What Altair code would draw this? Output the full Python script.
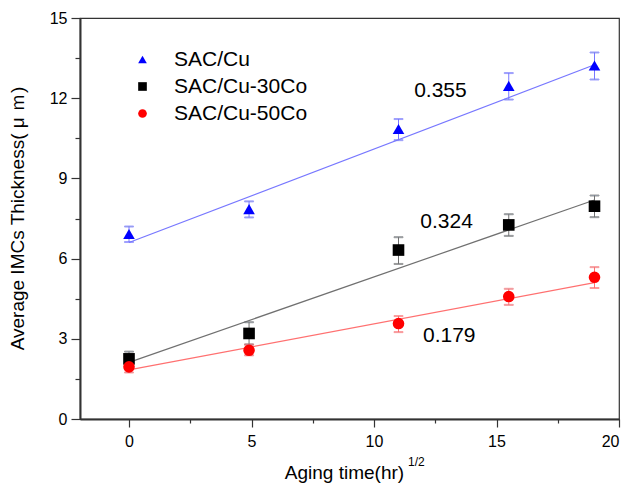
import altair as alt
import pandas as pd

# ---- data ----
series = ["SAC/Cu", "SAC/Cu-30Co", "SAC/Cu-50Co"]
aging = [0, 4.9, 11, 15.5, 19]

cu_mean = [6.92, 7.85, 10.85, 12.46, 13.22]
cu_lo = [6.62, 7.54, 10.43, 11.95, 12.70]
cu_hi = [7.20, 8.14, 11.22, 12.94, 13.71]

co30_mean = [2.25, 3.20, 6.32, 7.26, 7.96]
co30_lo = [1.95, 2.79, 5.80, 6.85, 7.55]
co30_hi = [2.52, 3.62, 6.80, 7.66, 8.36]

co50_mean = [1.95, 2.57, 3.57, 4.58, 5.30]
co50_lo = [1.74, 2.38, 3.25, 4.27, 4.90]
co50_hi = [2.14, 2.78, 3.85, 4.87, 5.68]

fit_x = [0, 19]
fit_cu = [6.60, 13.25]
fit_co30 = [2.12, 8.19]
fit_co50 = [1.84, 5.10]

slope_text = ["0.355", "0.324", "0.179"]
slope_x = [11.64, 11.89, 12.0]
slope_y = [12.27, 7.37, 3.09]

x_ticks = [0, 2.5, 5, 7.5, 10, 12.5, 15, 17.5, 20]
y_ticks = [0, 1.5, 3, 4.5, 6, 7.5, 9, 10.5, 12, 13.5, 15]

dark = ["#0000ff", "#000000", "#ff0000"]
light = ["#7777ff", "#707070", "#ff7070"]
shapes = ["triangle-up", "square", "circle"]

# ---- tables ----
means = [cu_mean, co30_mean, co50_mean]
los = [cu_lo, co30_lo, co50_lo]
his = [cu_hi, co30_hi, co50_hi]
fits = [fit_cu, fit_co30, fit_co50]

pts = pd.DataFrame([
    {"series": s, "grp": s, "x": xv, "y": m[i], "lo": lo[i], "hi": hi[i]}
    for s, m, lo, hi in zip(series, means, los, his)
    for i, xv in enumerate(aging)
])
caps = pd.DataFrame(
    [{"grp": s, "x": xv, "y": lo[i]} for s, lo in zip(series, los) for i, xv in enumerate(aging)]
    + [{"grp": s, "x": xv, "y": hi[i]} for s, hi in zip(series, his) for i, xv in enumerate(aging)]
)
fit_df = pd.DataFrame([
    {"grp": s, "x": xv, "y": f[i]}
    for s, f in zip(series, fits)
    for i, xv in enumerate(fit_x)
])
ann = pd.DataFrame({"text": slope_text, "x": slope_x, "y": slope_y})

FONT = "Liberation Sans"

x_axis = alt.Axis(
    values=x_ticks,
    labelExpr="datum.value % 5 === 0 ? datum.label : ''",
    tickSize={"condition": {"test": "datum.value % 5 === 0", "value": 8}, "value": 4},
    title="Aging time(hr)",
    titleX=264, titleY=59, titleAlign="center", titleBaseline="alphabetic",
    titleFontSize=19, titleFontWeight="normal",
    labelFontSize=16, labelPadding=6, labelOverlap=False, grid=False,
)
y_axis = alt.Axis(
    values=y_ticks,
    labelExpr="datum.value % 3 === 0 ? datum.label : ''",
    tickSize={"condition": {"test": "datum.value % 3 === 0", "value": 9}, "value": 5},
    title="Average IMCs Thickness( μ ｍ)",
    titleX=-63, titleY=200, titleAlign="center", titleBaseline="middle", titleAngle=270,
    titleFontSize=19, titleFontWeight="normal",
    labelFontSize=16, labelPadding=4, labelOverlap=False, grid=False,
)
xs = alt.Scale(domain=[-2, 20], nice=False, zero=False)
ys = alt.Scale(domain=[0, 15], nice=False, zero=False)


def X(f="x"):
    return alt.X(f"{f}:Q", scale=xs, axis=x_axis)


def Y(f="y"):
    return alt.Y(f"{f}:Q", scale=ys, axis=y_axis)


stroke_enc = alt.Stroke("grp:N", scale=alt.Scale(domain=series, range=light), legend=None)

lines = alt.Chart(fit_df).mark_line(strokeWidth=1.2).encode(
    x=X(), y=Y(), stroke=stroke_enc, detail="grp:N"
)
err = alt.Chart(pts).mark_rule(strokeWidth=1).encode(
    x=X(), y=Y("lo"), y2="hi:Q", stroke=stroke_enc
)
cap = alt.Chart(caps).mark_tick(orient="horizontal", size=9, thickness=1).encode(
    x=X(), y=Y(), stroke=stroke_enc
)
leg = alt.Legend(
    title=None, orient="none", legendX=52, legendY=31, padding=0,
    labelFontSize=21, labelFont=FONT, labelColor="#000000",
    symbolSize=75, rowPadding=5, labelOffset=21,
)
points = alt.Chart(pts).mark_point(filled=True, size=135, opacity=1).encode(
    x=X(), y=Y(),
    fill=alt.Fill("series:N", scale=alt.Scale(domain=series, range=dark), legend=leg),
    shape=alt.Shape("series:N", scale=alt.Scale(domain=series, range=shapes), legend=leg),
)
labels = alt.Chart(ann).mark_text(
    align="left", baseline="middle", fontSize=21, font=FONT, color="#000000"
).encode(x=X(), y=Y(), text="text:N")

sup = alt.Chart(pd.DataFrame({"t": ["1/2"]})).mark_text(
    align="left", baseline="alphabetic", fontSize=12, font=FONT, color="#000000"
).encode(x=alt.value(328), y=alt.value(448), text="t:N")

chart = (
    alt.layer(lines, err, cap, points, labels, sup)
    .resolve_legend(fill="independent", shape="independent", stroke="independent")
    .properties(
        width=539, height=401, autosize="none",
        padding={"left": 80, "top": 18, "right": 8, "bottom": 67},
        background="#ffffff",
    )
    .configure_view(stroke="#333333", strokeWidth=1.2)
    .configure_axis(
        domainColor="#333333", domainWidth=2, tickColor="#333333", tickWidth=1.2,
        labelFont=FONT, titleFont=FONT, labelColor="#000000", titleColor="#000000",
    )
)

chart.save("out.html", embed_options={"renderer": "svg", "actions": False})
